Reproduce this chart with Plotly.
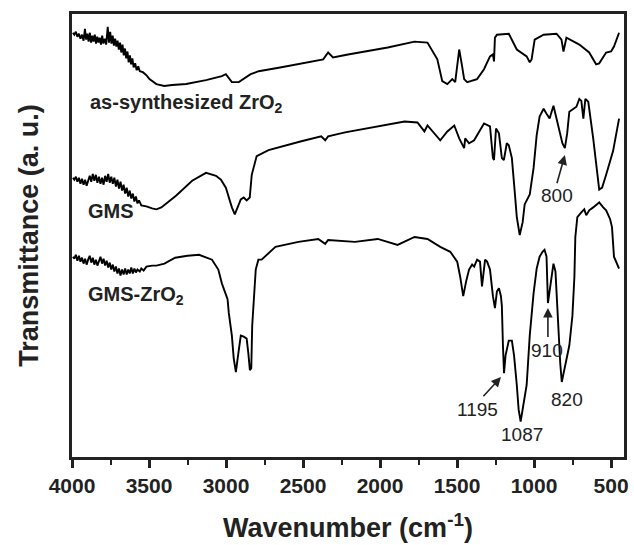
import plotly.graph_objects as go

# FTIR spectra (wavenumber in cm-1, transmittance in arbitrary units)
zro2_wn = [3994, 3985, 3975, 3965, 3955, 3945, 3935, 3925, 3916, 3908, 3900, 3892, 3884,
           3876, 3868, 3860, 3852, 3844, 3836, 3828, 3820, 3812, 3804, 3796, 3787, 3778,
           3768, 3760, 3752, 3744, 3736, 3728, 3720, 3712, 3704, 3696, 3688, 3680, 3672,
           3664, 3656, 3648, 3640, 3632, 3624, 3616, 3608, 3600, 3590, 3580, 3570, 3560,
           3540, 3517, 3497,
           3452, 3401, 3350, 3259, 3130, 3027, 3001, 2962, 2917, 2840, 2788, 2640, 2369,
           2337, 2305, 2208, 1950, 1776, 1712, 1692, 1628, 1596, 1563, 1531, 1512, 1486,
           1467, 1454, 1434, 1370, 1325, 1286, 1267, 1260, 1254, 1241, 1164, 1112, 1048,
           1028, 1016, 996, 938, 854, 822, 809, 790, 758, 706, 642, 597, 577, 532, 500,
           481, 448]
zro2_t = [430, 428, 431, 426, 429, 424, 428, 422, 434, 423, 429, 421, 430,
          420, 427, 421, 428, 419, 426, 420, 425, 418, 427, 419, 424, 418,
          436, 420, 431, 419, 427, 417, 424, 416, 422, 413, 420, 410, 418,
          407, 414, 404, 411, 400, 407, 398, 404, 395, 399, 392, 396, 391,
          390, 387, 383,
          378, 376, 377, 378, 382, 386, 388, 380, 380, 388, 391, 395, 403,
          410, 405, 408, 415, 421, 420, 420, 403, 381, 378, 383, 380, 413,
          396, 383, 380, 383, 393, 406, 408, 401, 425, 428, 429, 413, 406,
          400, 403, 423, 428, 429, 423, 411, 425, 422, 418, 410, 398, 399, 410, 411,
          416, 430]

gms_wn = [3994, 3985, 3975, 3965, 3955, 3945, 3935, 3925, 3915, 3905, 3895, 3885, 3875,
          3865, 3855, 3845, 3835, 3825, 3815, 3805, 3795, 3785, 3775, 3765, 3755, 3745,
          3735, 3725, 3715, 3705, 3695, 3685, 3675, 3665, 3655, 3645, 3635, 3625, 3615,
          3605, 3595, 3585, 3575, 3565, 3550, 3517, 3480, 3452, 3420, 3388, 3323, 3220,
          3130, 3065, 3033, 3001, 2962, 2943, 2904, 2885, 2866, 2846, 2833, 2801, 2724,
          2511, 2382, 2356, 2337, 2227, 1841, 1757, 1725, 1712, 1692, 1660, 1609, 1563,
          1518, 1486, 1454, 1447, 1422, 1389, 1325, 1286, 1267, 1260, 1247, 1228, 1209,
          1196, 1177, 1164, 1144, 1125, 1112, 1093, 1074, 1061, 1028, 1003, 983, 964, 938,
          919, 899, 874, 841, 816, 800, 785, 771, 725, 706, 693, 680, 667, 648, 616, 577,
          558, 532, 487, 448]
gms_t = [283, 281, 284, 279, 283, 277, 282, 276, 281, 275, 280, 285, 279,
         287, 280, 286, 278, 284, 277, 283, 276, 285, 279, 287, 278, 284,
         277, 283, 274, 281, 272, 279, 270, 276, 267, 273, 264, 270, 262,
         267, 259, 264, 257, 260, 255, 254, 252, 251, 253, 257, 265, 280,
         288, 285, 281, 273, 253, 246, 261, 263, 260, 263, 286, 305, 311,
         320, 325, 321, 325, 329, 340, 339, 333, 330, 336, 330, 321, 330,
         336, 323, 313, 323, 318, 321, 338, 335, 303, 301, 333, 328, 303,
         301, 318, 316, 303, 268, 243, 225, 238, 256, 266, 293, 326, 345, 353,
         348, 343, 356, 333, 318, 313, 328, 350, 355, 363, 361, 343, 363, 360, 323, 271,
         273, 286, 310, 343]

gmszr_wn = [3994, 3985, 3975, 3965, 3955, 3945, 3935, 3925, 3915, 3905, 3895, 3885, 3875,
            3865, 3855, 3845, 3835, 3825, 3815, 3805, 3795, 3785, 3775, 3765, 3755, 3745,
            3735, 3725, 3715, 3705, 3695, 3685, 3675, 3665, 3655, 3645, 3635, 3625, 3615,
            3605, 3595, 3585, 3575, 3560, 3550, 3535, 3517, 3480, 3452,
            3400, 3330, 3250, 3175, 3091, 3050, 3027, 2990, 2982, 2962, 2950, 2936, 2920,
            2904, 2885, 2866, 2855, 2845, 2836, 2830, 2807, 2790, 2769, 2679, 2530, 2401,
            2356, 2337, 2163, 2015, 1886, 1776, 1692, 1609, 1544, 1499, 1480, 1460, 1441,
            1422, 1402, 1389, 1370, 1351, 1338, 1318, 1305, 1286, 1267, 1254, 1241, 1228,
            1215, 1209, 1202, 1195, 1185, 1164, 1144, 1130, 1112, 1100, 1087, 1075, 1048,
            1028, 1003, 983, 964, 945, 932, 919, 914, 910, 899, 887, 874, 861, 854, 841,
            830, 820, 805, 790, 771, 751, 738, 732, 719, 693, 674, 661, 642, 616, 577, 551,
            532, 506, 494, 481, 468, 448]
gmszr_t = [203, 201, 205, 199, 204, 198, 202, 196, 201, 195, 200, 204, 197,
           202, 195, 200, 194, 199, 203, 196, 201, 194, 199, 192, 197, 190,
           195, 188, 193, 186, 191, 184, 190, 185, 191, 185, 190, 186, 192,
           186, 191, 187, 190, 188, 191, 189, 193, 194, 194,
           196, 202, 204, 205, 200, 190, 176, 160, 146, 123, 100, 86, 105,
           123, 122, 120, 105, 88, 90, 133, 190, 200, 200, 213, 218, 221,
           216, 220, 218, 221, 215, 223, 221, 213, 208, 198, 183, 163, 178,
           190, 195, 193, 200, 198, 173, 200, 198, 190, 163, 151, 168, 171,
           163, 153, 113, 85, 103, 118, 118, 103, 73, 48, 36, 48, 73,
           123, 166, 191, 203, 208, 210, 203, 183, 156, 168, 183, 196, 188, 166, 123,
           95, 76, 88, 100, 113, 143, 183, 223, 243, 248, 251, 245, 250, 253, 258, 253,
           250, 241, 233, 203, 198, 191]

series_names = ["as-synthesized ZrO<sub>2</sub>", "GMS", "GMS-ZrO<sub>2</sub>"]
series_wn = [zro2_wn, gms_wn, gmszr_wn]
series_t = [zro2_t, gms_t, gmszr_t]

# curve label positions (wavenumber of left edge, transmittance of centre)
label_wn = [3897, 3910, 3910]
label_t = [358, 249, 164]

# band assignments: label, curve index, band position, label position, arrow on/off
peak_text = ["800", "1195", "1087", "910", "820"]
peak_curve = [1, 2, 2, 2, 2]
peak_wn = [800, 1195, 1087, 910, 820]
peak_label_wn = [848, 1370, 1080, 919, 783]
peak_label_t = [265, 48, 23, 108, 58]
peak_arrow = [True, True, False, True, False]

tick_vals = [4000, 3500, 3000, 2500, 2000, 1500, 1000, 500]

font_family = "Liberation Sans, Arial, sans-serif"
ink = "#222"

fig = go.Figure()
for name, wn, t in zip(series_names, series_wn, series_t):
    fig.add_trace(go.Scatter(x=wn, y=t, mode="lines", name=name,
                             line=dict(color="black", width=1.9), showlegend=False))

annotations = []
for name, x, y in zip(series_names, label_wn, label_t):
    annotations.append(dict(x=x, y=y, xref="x", yref="y", text=name, showarrow=False,
                            xanchor="left", yanchor="middle",
                            font=dict(family=font_family, size=20, color=ink,
                                      weight="bold")))

for txt, ci, pw, lx, ly, arr in zip(peak_text, peak_curve, peak_wn, peak_label_wn,
                                    peak_label_t, peak_arrow):
    annotations.append(dict(x=lx, y=ly, xref="x", yref="y", text=txt, showarrow=False,
                            font=dict(family=font_family, size=19, color=ink)))
    if arr:
        wn_list = series_wn[ci]
        t_list = series_t[ci]
        band_t = t_list[wn_list.index(pw)]
        if txt == "1195":
            head = (pw + 20, band_t - 4)
            tail = (1338, 60)
        elif txt == "910":
            head = (pw, band_t - 5)
            tail = (pw, band_t - 36)
        else:
            head = (pw, band_t - 7)
            tail = (pw + 54, band_t - 37)
        annotations.append(dict(x=head[0], y=head[1], ax=tail[0], ay=tail[1],
                                xref="x", yref="y", axref="x", ayref="y", text="",
                                showarrow=True, arrowhead=2, arrowsize=1.2,
                                arrowwidth=1.6, arrowcolor=ink))

fig.update_layout(
    width=634, height=545,
    margin=dict(l=72, r=6, t=14, b=82),
    paper_bgcolor="white", plot_bgcolor="white",
    font=dict(family=font_family, color=ink),
    annotations=annotations,
    xaxis=dict(
        range=[4000, 416], tickvals=tick_vals,
        ticks="outside", ticklen=8, tickwidth=2.5, tickcolor=ink,
        minor=dict(dtick=250, tick0=250, ticks="outside", ticklen=5, tickwidth=2,
                   tickcolor=ink),
        showline=True, linewidth=2.5, linecolor=ink, mirror=True,
        showgrid=False, zeroline=False,
        tickfont=dict(family=font_family, size=21, color=ink, weight="bold"),
        title=dict(text="Wavenumber (cm<sup>-1</sup>)", standoff=23,
                   font=dict(family=font_family, size=27, color=ink, weight="bold")),
    ),
    yaxis=dict(
        range=[0, 449], showticklabels=False, ticks="",
        showline=True, linewidth=2.5, linecolor=ink, mirror=True,
        showgrid=False, zeroline=False,
        title=dict(text="Transmittance (a. u.)", standoff=23,
                   font=dict(family=font_family, size=27, color=ink, weight="bold")),
    ),
)

fig.write_html("out.html")
